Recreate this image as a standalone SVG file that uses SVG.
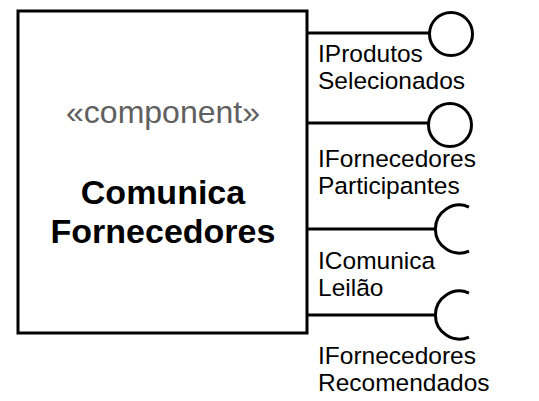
<svg xmlns="http://www.w3.org/2000/svg" width="539" height="401" viewBox="0 0 539 401">
<style>
.ln{stroke:#000;stroke-width:3;fill:none}
.lbl{font-family:"Liberation Sans",Arial,sans-serif;font-size:24.5px;fill:#000}
.st{font-family:"Liberation Sans",Arial,sans-serif;font-size:32px;fill:#606060;text-anchor:middle}
.nm{font-family:"Liberation Sans",Arial,sans-serif;font-size:34px;font-weight:bold;fill:#000;text-anchor:middle}
</style>
<rect width="539" height="401" fill="#fff"/>
<g id="component">
<rect class="ln" x="18" y="11" width="289" height="322" fill="#fff"/>
<text class="st" x="163" y="123">«component»</text>
<text class="nm" x="163" y="204">Comunica</text>
<text class="nm" x="163" y="243">Fornecedores</text>
</g>
<g id="connectors">
<line class="ln" x1="307" y1="33" x2="430" y2="33"/>
<line class="ln" x1="307" y1="123" x2="429" y2="123"/>
<line class="ln" x1="307" y1="229" x2="435" y2="229"/>
<line class="ln" x1="307" y1="315" x2="435" y2="315"/>
</g>
<g id="IProdutosSelecionados">
<circle class="ln" cx="451" cy="34" r="21.5"/>
<text class="lbl" x="318" y="62">IProdutos</text>
<text class="lbl" x="318" y="89">Selecionados</text>
</g>
<g id="IFornecedoresParticipantes">
<circle class="ln" cx="450" cy="125" r="21.5"/>
<text class="lbl" x="318" y="167">IFornecedores</text>
<text class="lbl" x="318" y="194">Participantes</text>
</g>
<g id="IComunicaLeilao">
<path class="ln" d="M469,207 A24,24 0 1 0 469,251"/>
<text class="lbl" x="318" y="269">IComunica</text>
<text class="lbl" x="318" y="296">Leilão</text>
</g>
<g id="IFornecedoresRecomendados">
<path class="ln" d="M469,293 A24,24 0 1 0 469,337"/>
<text class="lbl" x="318" y="364">IFornecedores</text>
<text class="lbl" x="318" y="391">Recomendados</text>
</g>
</svg>
